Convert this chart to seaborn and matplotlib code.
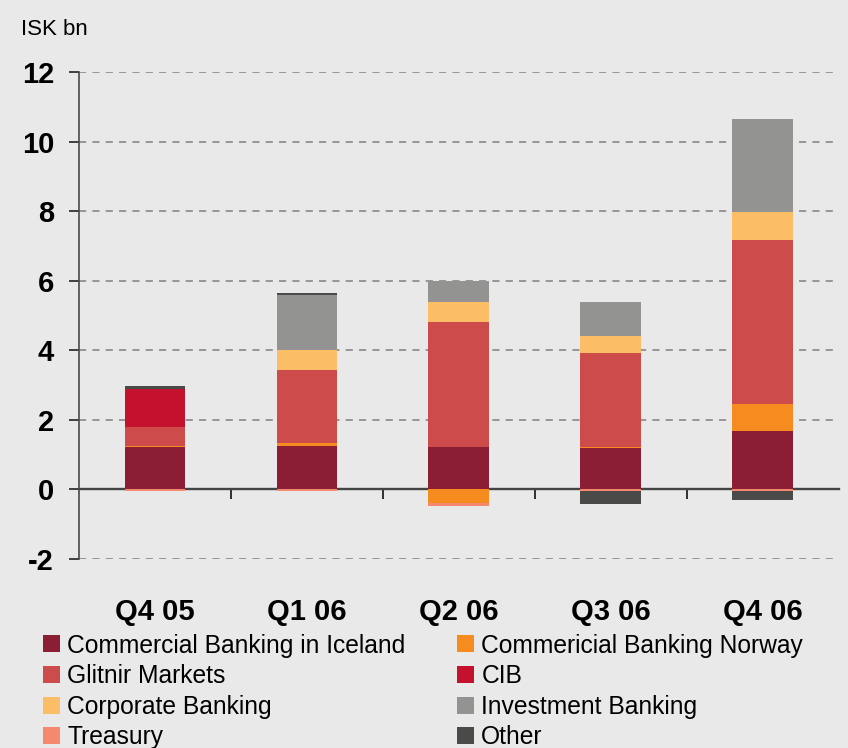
import numpy as np
import matplotlib
matplotlib.use('Agg')
import matplotlib.pyplot as plt
from matplotlib.patches import Patch
import seaborn as sns

# --
# Data (ISK bn)

quarters = ['Q4 05', 'Q1 06', 'Q2 06', 'Q3 06', 'Q4 06']

cb_iceland  = [1.21, 1.24, 1.21, 1.20, 1.69]
cb_norway   = [0.03, 0.09, -0.40, 0.03, 0.78]
glitnir     = [0.55, 2.10, 3.61, 2.68, 4.70]
cib         = [1.10, 0.00, 0.00, 0.00, 0.00]
corporate   = [0.00, 0.58, 0.57, 0.49, 0.80]
investment  = [0.00, 1.59, 0.61, 0.99, 2.69]
treasury    = [-0.05, -0.05, -0.09, -0.05, -0.05]
other       = [0.07, 0.05, 0.00, -0.37, -0.25]

series = [
    ('Commercial Banking in Iceland', cb_iceland, '#8b1e34'),
    ('Commericial Banking Norway',    cb_norway,  '#f68b1f'),
    ('Glitnir Markets',               glitnir,    '#cd4b4b'),
    ('CIB',                           cib,        '#c4122e'),
    ('Corporate Banking',             corporate,  '#fbbe67'),
    ('Investment Banking',            investment, '#939391'),
    ('Treasury',                      treasury,   '#f4896f'),
    ('Other',                         other,      '#4a4a48'),
]

BG = '#e9e9e9'
FONT = ['Liberation Sans', 'DejaVu Sans']

# --
# Plot

sns.set_theme(style='white')
plt.rcParams['font.family'] = FONT
plt.rcParams['axes.unicode_minus'] = False
plt.rcParams['text.color'] = 'black'
plt.rcParams['xtick.color'] = 'black'
plt.rcParams['ytick.color'] = 'black'

fig = plt.figure(figsize=(8.48, 7.48), dpi=100, facecolor=BG)
ax = fig.add_axes([0.0932, 0.2527, 0.8958, 0.651])
ax.set_facecolor(BG)

pos_bottom = np.zeros(len(quarters))
neg_bottom = np.zeros(len(quarters))

for name, vals, color in series:
    vals = np.array(vals, dtype=float)
    bottom = np.where(vals >= 0, pos_bottom, neg_bottom)
    sns.barplot(x=quarters, y=vals, bottom=bottom, color=color, width=0.4,
                errorbar=None, saturation=1, linewidth=0, ax=ax, zorder=2)
    pos_bottom += np.clip(vals, 0, None)
    neg_bottom += np.clip(vals, None, 0)

ax.set_ylim(-2, 12)
ax.set_xlim(-0.5, len(quarters) - 0.5)
ax.set_yticks(np.arange(-2, 13, 2))

for y in [-2, 2, 4, 6, 8, 10, 12]:
    ax.axhline(y, color='#888888', lw=1.2, ls=(0, (4.3, 3.7)), zorder=1)

# zero line with tick marks between quarters
zero = ax.secondary_xaxis(0, transform=ax.transData)
zero.set_xticks(np.arange(0.5, len(quarters) - 0.5, 1))
zero.set_xticklabels([])
zero.tick_params(direction='out', length=7, width=1.3, color='#222222')
zero.spines['bottom'].set_color('#444444')
zero.spines['bottom'].set_linewidth(1.7)

for s in ['top', 'right', 'bottom']:
    ax.spines[s].set_visible(False)
ax.spines['left'].set_color('#4a4a4a')
ax.spines['left'].set_linewidth(1.2)

ax.tick_params(axis='y', left=True, length=7, width=1.2, color='#222222',
               pad=11, labelsize=21, labelcolor='black')
ax.tick_params(axis='x', bottom=False, pad=22, labelsize=21, labelcolor='black')
for lbl in ax.get_yticklabels() + ax.get_xticklabels():
    lbl.set_fontweight('bold')
    lbl.set_fontfamily(FONT)
ax.set_xlabel('')
ax.set_ylabel('')

fig.text(0.025, 0.975, 'ISK bn', fontsize=16, va='top', ha='left',
         family=FONT, color='black')

# legend: left column then right column
order = [0, 2, 4, 6, 1, 3, 5, 7]
handles = [Patch(facecolor=series[i][2], edgecolor='none', label=series[i][0]) for i in order]
leg = fig.legend(handles=handles, ncol=2, loc='upper left', bbox_to_anchor=(0.051, 0.153),
                 frameon=False, prop={'family': FONT, 'size': 17.7},
                 handlelength=0.68, handleheight=0.68, handletextpad=0.3, labelspacing=0.27,
                 columnspacing=2.1, borderpad=0, borderaxespad=0)
for t in leg.get_texts():
    t.set_color('black')

fig.savefig('out.png', dpi=100, facecolor=BG)
